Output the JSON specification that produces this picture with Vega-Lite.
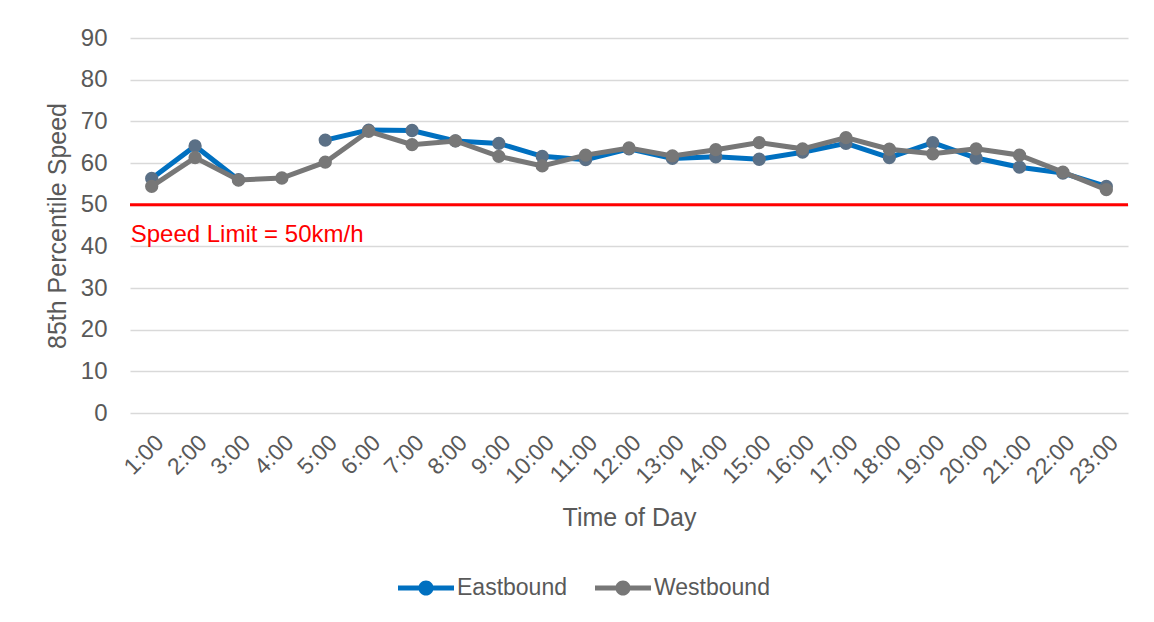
{
  "$schema": "https://vega.github.io/schema/vega-lite/v6.json",
  "autosize": {"type": "none"},
  "width": 998,
  "height": 375,
  "padding": {"left": 130, "top": 38, "right": 26, "bottom": 209},
  "background": "white",
  "config": {
    "view": {"stroke": null},
    "font": "Liberation Sans",
    "axis": {
      "labelColor": "#595959",
      "titleColor": "#595959",
      "titleFontWeight": "normal",
      "domain": false,
      "ticks": false,
      "gridColor": "#D9D9D9",
      "gridWidth": 1.5
    }
  },
  "data": {
    "values": [
      {"hour": "1:00", "direction": "Eastbound", "speed": 56.3},
      {"hour": "2:00", "direction": "Eastbound", "speed": 64.1},
      {"hour": "3:00", "direction": "Eastbound", "speed": 56.0},
      {"hour": "4:00", "direction": "Eastbound", "speed": null},
      {"hour": "5:00", "direction": "Eastbound", "speed": 65.5},
      {"hour": "6:00", "direction": "Eastbound", "speed": 67.9},
      {"hour": "7:00", "direction": "Eastbound", "speed": 67.8},
      {"hour": "8:00", "direction": "Eastbound", "speed": 65.3},
      {"hour": "9:00", "direction": "Eastbound", "speed": 64.7},
      {"hour": "10:00", "direction": "Eastbound", "speed": 61.6},
      {"hour": "11:00", "direction": "Eastbound", "speed": 60.8},
      {"hour": "12:00", "direction": "Eastbound", "speed": 63.4},
      {"hour": "13:00", "direction": "Eastbound", "speed": 61.1},
      {"hour": "14:00", "direction": "Eastbound", "speed": 61.5},
      {"hour": "15:00", "direction": "Eastbound", "speed": 60.9},
      {"hour": "16:00", "direction": "Eastbound", "speed": 62.6},
      {"hour": "17:00", "direction": "Eastbound", "speed": 64.7},
      {"hour": "18:00", "direction": "Eastbound", "speed": 61.3},
      {"hour": "19:00", "direction": "Eastbound", "speed": 64.9},
      {"hour": "20:00", "direction": "Eastbound", "speed": 61.2},
      {"hour": "21:00", "direction": "Eastbound", "speed": 59.0},
      {"hour": "22:00", "direction": "Eastbound", "speed": 57.6},
      {"hour": "23:00", "direction": "Eastbound", "speed": 54.4},
      {"hour": "1:00", "direction": "Westbound", "speed": 54.4},
      {"hour": "2:00", "direction": "Westbound", "speed": 61.3},
      {"hour": "3:00", "direction": "Westbound", "speed": 55.9},
      {"hour": "4:00", "direction": "Westbound", "speed": 56.4},
      {"hour": "5:00", "direction": "Westbound", "speed": 60.2},
      {"hour": "6:00", "direction": "Westbound", "speed": 67.6},
      {"hour": "7:00", "direction": "Westbound", "speed": 64.4},
      {"hour": "8:00", "direction": "Westbound", "speed": 65.3},
      {"hour": "9:00", "direction": "Westbound", "speed": 61.6},
      {"hour": "10:00", "direction": "Westbound", "speed": 59.3},
      {"hour": "11:00", "direction": "Westbound", "speed": 61.9},
      {"hour": "12:00", "direction": "Westbound", "speed": 63.6},
      {"hour": "13:00", "direction": "Westbound", "speed": 61.7},
      {"hour": "14:00", "direction": "Westbound", "speed": 63.2},
      {"hour": "15:00", "direction": "Westbound", "speed": 64.9},
      {"hour": "16:00", "direction": "Westbound", "speed": 63.4},
      {"hour": "17:00", "direction": "Westbound", "speed": 66.1},
      {"hour": "18:00", "direction": "Westbound", "speed": 63.3},
      {"hour": "19:00", "direction": "Westbound", "speed": 62.2},
      {"hour": "20:00", "direction": "Westbound", "speed": 63.4},
      {"hour": "21:00", "direction": "Westbound", "speed": 61.9},
      {"hour": "22:00", "direction": "Westbound", "speed": 57.8},
      {"hour": "23:00", "direction": "Westbound", "speed": 53.6}
    ]
  },
  "encoding": {
    "x": {
      "field": "hour",
      "type": "ordinal",
      "sort": null,
      "scale": {"type": "point", "padding": 0.5},
      "axis": {
        "title": "Time of Day",
        "titleFontSize": 25,
        "titlePadding": 18,
        "labelFontSize": 23,
        "labelAngle": -45,
        "labelPadding": 18,
        "grid": false
      }
    },
    "y": {
      "field": "speed",
      "type": "quantitative",
      "scale": {"domain": [0, 90], "nice": false},
      "axis": {
        "title": "85th Percentile Speed",
        "titleFontSize": 25,
        "titlePadding": 10,
        "labelFontSize": 24,
        "labelPadding": 23,
        "values": [0, 10, 20, 30, 40, 50, 60, 70, 80, 90]
      }
    }
  },
  "layer": [
    {
      "transform": [{"filter": "datum.direction === 'Eastbound'"}],
      "mark": {"type": "line", "strokeWidth": 5, "invalid": "break-paths-filter-domains"},
      "encoding": {
        "color": {
          "field": "direction",
          "type": "nominal",
          "scale": {"domain": ["Eastbound", "Westbound"], "range": ["#0070C0", "#777777"]},
          "legend": {
            "title": null,
            "orient": "none",
            "legendX": 268,
            "legendY": 522,
            "direction": "horizontal",
            "labelFontSize": 23,
            "labelColor": "#595959",
            "labelOffset": 3,
            "columnPadding": 28,
            "symbolType": "M-1,-0.09H1V0.09H-1Z M0,-0.27A0.27,0.27 0 1 1 0,0.27A0.27,0.27 0 1 1 0,-0.27Z",
            "symbolSize": 3136,
            "symbolStrokeWidth": 0,
            "encode": {"symbols": {"update": {"fill": {"scale": "color", "field": "value"}}}}
          }
        }
      }
    },
    {
      "transform": [{"filter": "datum.direction === 'Eastbound' && datum.speed != null"}],
      "mark": {"type": "point", "filled": true, "opacity": 1, "size": 177, "color": "#5B7086"}
    },
    {
      "transform": [{"filter": "datum.direction === 'Westbound'"}],
      "mark": {"type": "line", "strokeWidth": 5},
      "encoding": {"color": {"field": "direction", "type": "nominal"}}
    },
    {
      "transform": [{"filter": "datum.direction === 'Westbound'"}],
      "mark": {"type": "point", "filled": true, "opacity": 1, "size": 177, "color": "#777777"}
    },
    {
      "data": {"values": [{"limit": 50}]},
      "mark": {"type": "rule", "color": "#FF0000", "strokeWidth": 3},
      "encoding": {"y": {"field": "limit", "type": "quantitative"}, "x": null}
    },
    {
      "data": {"values": [{"limit": 50, "hour": "1:00", "label": "Speed Limit = 50km/h"}]},
      "mark": {"type": "text", "color": "#FF0000", "fontSize": 24, "align": "left", "baseline": "middle", "dx": -21, "dy": 30},
      "encoding": {
        "x": {"field": "hour", "type": "ordinal", "sort": null},
        "y": {"field": "limit", "type": "quantitative"},
        "text": {"field": "label"}
      }
    }
  ]
}
